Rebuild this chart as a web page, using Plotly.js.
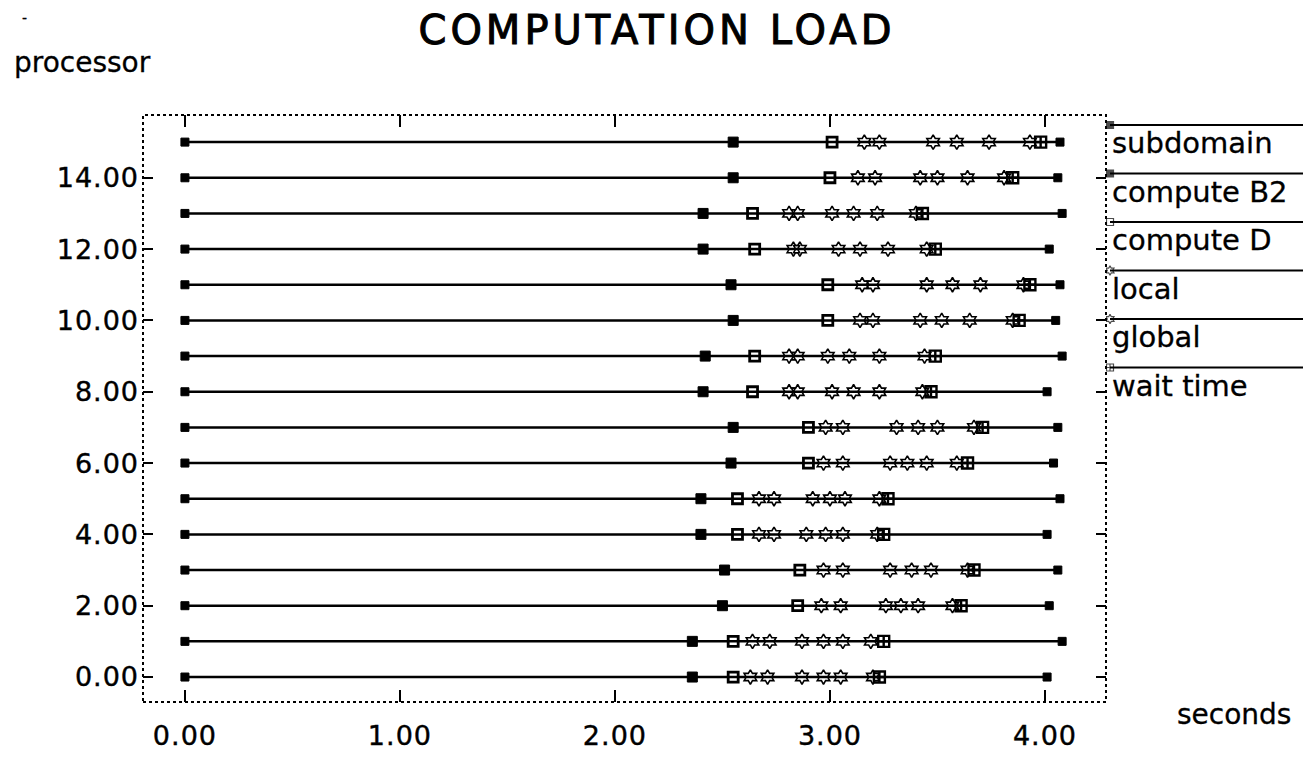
<!DOCTYPE html>
<html>
<head>
<meta charset="utf-8">
<script src="https://cdn.plot.ly/plotly-3.0.1.min.js"></script>
<style>
  html, body { margin: 0; padding: 0; background: #ffffff; }
  #chart { width: 1303px; height: 758px; }
  #chart .gtitle { letter-spacing: 4px; stroke: #000; stroke-width: 1px; }
  #chart .xtick text, #chart .ytick text { letter-spacing: 1px; stroke: #000; stroke-width: 0.4px; }
  #chart .annotation-text { stroke: #000; stroke-width: 0.3px; }
</style>
</head>
<body>
<div id="chart"></div>
<script>
// ---- data (seconds) ----
const processors = [0, 1, 2, 3, 4, 5, 6, 7, 8, 9, 10, 11, 12, 13, 14, 15];
const startTime  = [0, 0, 0, 0, 0, 0, 0, 0, 0, 0, 0, 0, 0, 0, 0, 0];
const computeB2  = [2.36, 2.36, 2.50, 2.51, 2.40, 2.40, 2.54, 2.55, 2.41, 2.42, 2.55, 2.54, 2.41, 2.41, 2.55, 2.55];
const computeD   = [2.55, 2.55, 2.85, 2.86, 2.57, 2.57, 2.90, 2.90, 2.64, 2.65, 2.99, 2.99, 2.65, 2.64, 3.00, 3.01];
const local1     = [2.63, 2.64, 2.96, 2.97, 2.67, 2.67, 2.97, 2.98, 2.81, 2.81, 3.14, 3.15, 2.83, 2.81, 3.13, 3.16];
const local2     = [2.71, 2.72, 3.05, 3.06, 2.74, 2.74, 3.06, 3.06, 2.85, 2.85, 3.20, 3.20, 2.86, 2.85, 3.21, 3.23];
const global1    = [2.87, 2.87, 3.26, 3.28, 2.89, 2.92, 3.28, 3.31, 3.01, 2.99, 3.42, 3.45, 3.04, 3.01, 3.42, 3.48];
const global2    = [2.97, 2.97, 3.33, 3.38, 2.98, 3.00, 3.36, 3.41, 3.11, 3.09, 3.52, 3.57, 3.14, 3.11, 3.50, 3.59];
const global3    = [3.05, 3.06, 3.41, 3.47, 3.06, 3.07, 3.45, 3.50, 3.23, 3.23, 3.65, 3.70, 3.27, 3.22, 3.64, 3.74];
const global4    = [3.20, 3.19, 3.57, 3.64, 3.22, 3.23, 3.59, 3.67, 3.43, 3.44, 3.85, 3.90, 3.45, 3.40, 3.81, 3.93];
const waitTime   = [3.23, 3.25, 3.61, 3.67, 3.25, 3.27, 3.64, 3.71, 3.47, 3.49, 3.88, 3.93, 3.49, 3.43, 3.85, 3.98];
const endTime    = [4.01, 4.08, 4.02, 4.06, 4.01, 4.07, 4.04, 4.06, 4.01, 4.08, 4.05, 4.07, 4.02, 4.08, 4.06, 4.07];

const legendNames = ['subdomain', 'compute B2', 'compute D', 'local', 'global', 'wait time'];
const xTickVals = [0, 1, 2, 3, 4];
const yTickVals = [0, 2, 4, 6, 8, 10, 12, 14];

// ---- styles ----
const FONT = 'DejaVu Sans, Liberation Sans, Arial, sans-serif';
const symbols = {
  'subdomain':  {symbol: 'square', size: 8, lw: 1},
  'compute B2': {symbol: 'square', size: 10, lw: 1},
  'compute D':  {symbol: 'square-open', size: 10, lw: 2.8},
  'local':      {symbol: 'hexagram-open', size: 11, lw: 1.6},
  'global':     {symbol: 'hexagram-open', size: 11, lw: 1.6},
  'wait time':  {symbol: 'square-cross-open', size: 11, lw: 2.4}
};

function markerTrace(name, xs, ys) {
  const s = symbols[name];
  return {
    type: 'scatter', mode: 'markers', x: xs, y: ys, name: name,
    showlegend: false, hoverinfo: 'x+y+name',
    marker: {symbol: s.symbol, size: s.size, color: '#000',
             line: {color: '#000', width: s.lw}}
  };
}

const traces = [];

// processor time lines
const lx = [], ly = [];
processors.forEach((p, i) => { lx.push(startTime[i], endTime[i], null); ly.push(p, p, null); });
traces.push({type: 'scatter', mode: 'lines', x: lx, y: ly, showlegend: false,
  hoverinfo: 'skip', line: {color: '#000', width: 2.5}});

traces.push(markerTrace('subdomain', startTime.concat(endTime), processors.concat(processors)));
traces.push(markerTrace('compute B2', computeB2, processors));
traces.push(markerTrace('compute D', computeD, processors));
traces.push(markerTrace('local', local1.concat(local2), processors.concat(processors)));
traces.push(markerTrace('global', global1.concat(global2, global3, global4),
  processors.concat(processors, processors, processors)));
traces.push(markerTrace('wait time', waitTime, processors));

// ---- custom legend on a pixel-like overlay axis in the right margin ----
const LEG_LINE0 = 10, LEG_TEXT0 = 28, LEG_STEP = 48.5;
const annotations = [];
legendNames.forEach((nm, i) => {
  const s = symbols[nm];
  const yl = LEG_LINE0 + LEG_STEP * i;
  traces.push({
    type: 'scatter', mode: 'lines+markers', xaxis: 'x2', yaxis: 'y2',
    x: [4, 197], y: [yl, yl], showlegend: false, hoverinfo: 'skip',
    line: {color: '#000', width: 2},
    marker: {symbol: s.symbol, size: [7, 0], color: '#000', line: {color: '#000', width: 1.2}}
  });
  annotations.push({
    xref: 'x2', yref: 'y2', x: 4, y: LEG_TEXT0 + LEG_STEP * i, text: nm,
    showarrow: false, xanchor: 'left', yanchor: 'middle',
    font: {family: FONT, size: 29, color: '#000'}
  });
});

const plotRight = 963 / 1160;
annotations.push({xref: 'paper', yref: 'paper', x: (12 - 143) / 1160, y: (702 - 63) / 587,
  text: 'processor', showarrow: false, xanchor: 'left', yanchor: 'middle',
  font: {family: FONT, size: 28, color: '#000'}});
annotations.push({xref: 'paper', yref: 'paper', x: (1175 - 143) / 1160, y: (702 - 714) / 587,
  text: 'seconds', showarrow: false, xanchor: 'left', yanchor: 'middle',
  font: {family: FONT, size: 28, color: '#000'}});
annotations.push({xref: 'paper', yref: 'paper', x: (20 - 143) / 1160, y: (702 - 18) / 587,
  text: '-', showarrow: false, xanchor: 'left', yanchor: 'middle',
  font: {family: FONT, size: 14, color: '#000'}});

const layout = {
  width: 1303, height: 758,
  margin: {l: 143, r: 0, t: 115, b: 56, pad: 0},
  paper_bgcolor: '#fff', plot_bgcolor: '#fff',
  showlegend: false,
  title: {text: 'COMPUTATION LOAD', xref: 'container', x: 657 / 1303, xanchor: 'center',
          yref: 'container', y: 1 - 30 / 758, yanchor: 'middle',
          font: {family: FONT, size: 40, color: '#000'}},
  xaxis: {domain: [0, plotRight], range: [-0.195, 4.284], tickvals: xTickVals, tickformat: '.2f',
          showgrid: false, zeroline: false, showline: false,
          ticks: 'inside', ticklen: 12, tickwidth: 2, tickcolor: '#000', mirror: 'ticks',
          ticklabelstandoff: 15,
          tickfont: {family: FONT, size: 27, color: '#000'}},
  yaxis: {domain: [0, 1], range: [-0.70, 15.76], tickvals: yTickVals, tickformat: '.2f',
          showgrid: false, zeroline: false, showline: false,
          ticks: 'inside', ticklen: 10, tickwidth: 2, tickcolor: '#000', mirror: 'ticks',
          ticklabelstandoff: 3,
          tickfont: {family: FONT, size: 27, color: '#000'}},
  xaxis2: {domain: [plotRight, 1], range: [0, 197], visible: false, fixedrange: true, anchor: 'y2'},
  yaxis2: {domain: [0, 1], range: [587, 0], visible: false, fixedrange: true, anchor: 'x2'},
  shapes: [{type: 'rect', xref: 'x domain', yref: 'y domain', x0: 0, x1: 1, y0: 0, y1: 1,
            line: {color: '#000', width: 2, dash: 'dot'}, fillcolor: 'rgba(0,0,0,0)'}],
  annotations: annotations
};

Plotly.newPlot('chart', traces, layout, {displayModeBar: false, staticPlot: true});
</script>
</body>
</html>
